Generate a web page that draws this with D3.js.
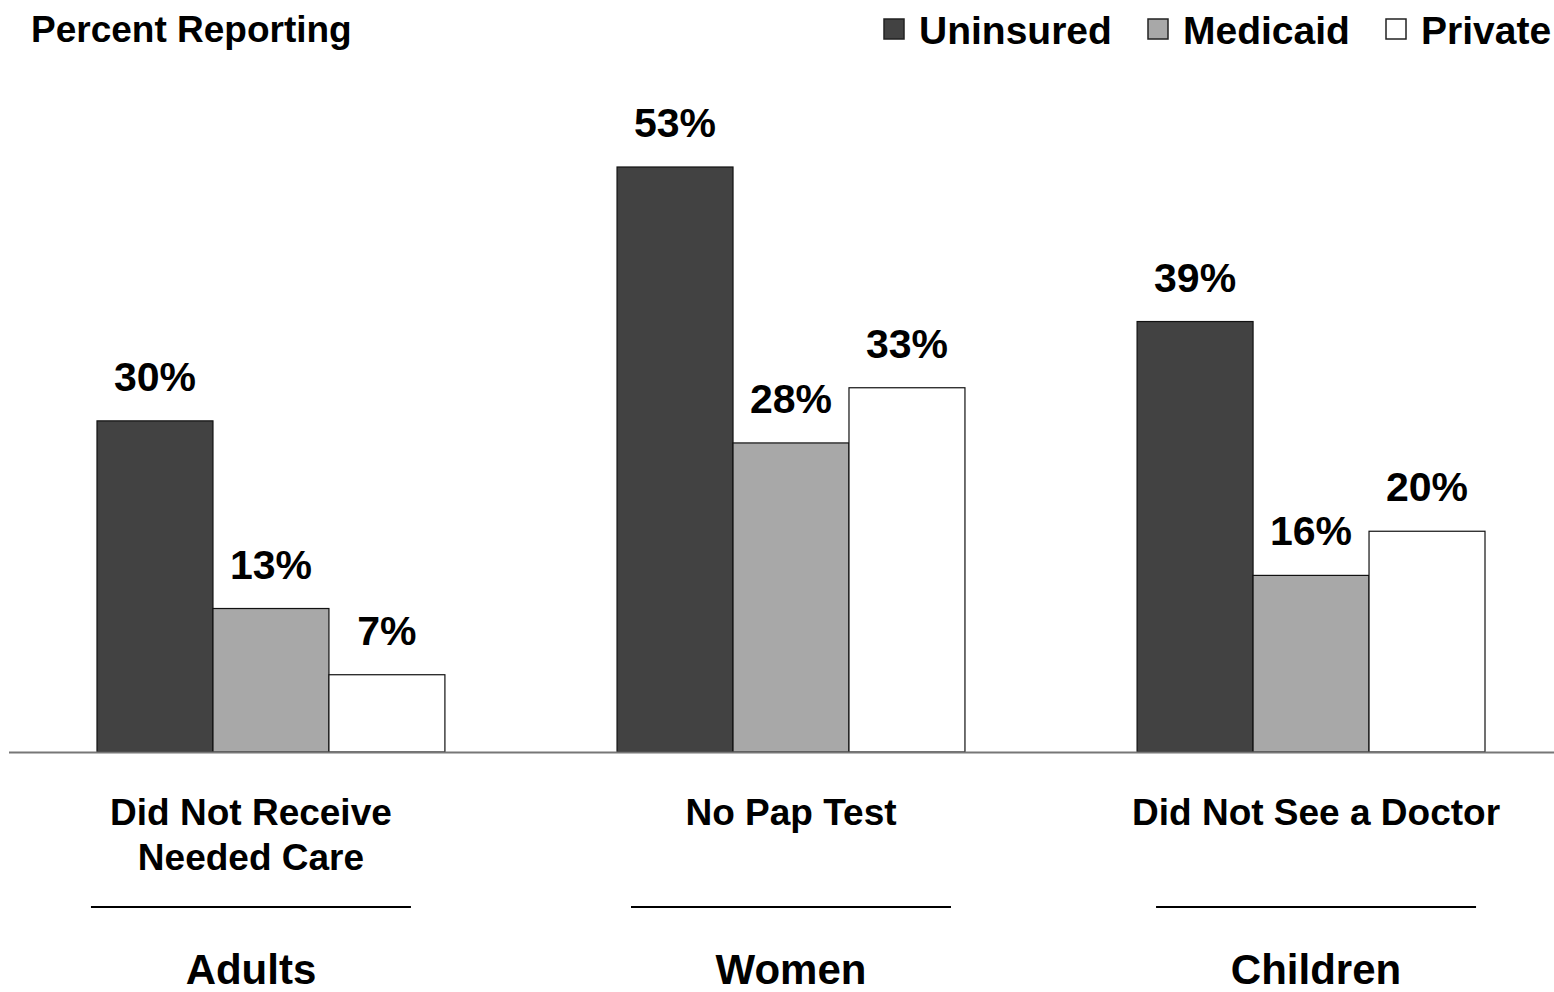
<!DOCTYPE html>
<html>
<head>
    <title>Percent Reporting by coverage</title>
    <style type="text/css">
        html, body { margin: 0; padding: 0; background: #fff; }
        svg { display: block; font-family: Arial, "Liberation Sans", sans-serif; font-weight: bold; }
    </style>
</head>
<body>
<div id="chart"></div>

<script src="https://cdnjs.cloudflare.com/ajax/libs/d3/7.8.5/d3.min.js"></script>
<script>

// data
var groups = ["Adults", "Women", "Children"];
var measures = [["Did Not Receive", "Needed Care"], ["No Pap Test"], ["Did Not See a Doctor"]];
var series = ["Uninsured", "Medicaid", "Private"];
var uninsured = [30, 53, 39];
var medicaid = [13, 28, 16];
var privateIns = [7, 33, 20];
var colors = ["#424242", "#a8a8a8", "#ffffff"];

var values = [uninsured, medicaid, privateIns];

var width = 1554, height = 992;
var baseY = 752;

var svg = d3.select("#chart").append("svg")
    .attr("width", width)
    .attr("height", height);

// group scale, bars inside
var x0 = d3.scaleBand().domain(groups).range([97, 1485]).paddingInner(0.331).paddingOuter(0);
var x1 = d3.scaleBand().domain(series).range([0, x0.bandwidth()]);

var y = d3.scaleLinear().domain([0, 53]).range([baseY, 167]);

// bars
var rows = [];
groups.forEach(function(g, gi) {
    series.forEach(function(s, si) {
        rows.push({group: g, series: s, si: si, value: values[si][gi]});
    });
});

svg.selectAll("rect.bar")
    .data(rows)
    .enter()
    .append("rect")
    .attr("class", "bar")
    .attr("x", function(d) { return x0(d.group) + x1(d.series); })
    .attr("y", function(d) { return y(d.value); })
    .attr("width", x1.bandwidth())
    .attr("height", function(d) { return baseY - y(d.value); })
    .style("fill", function(d) { return colors[d.si]; })
    .style("stroke", "#111")
    .style("stroke-width", 1.2);

// value labels
svg.selectAll("text.val")
    .data(rows)
    .enter()
    .append("text")
    .attr("class", "val")
    .attr("x", function(d) { return x0(d.group) + x1(d.series) + x1.bandwidth() / 2; })
    .attr("y", function(d) { return y(d.value) - 30; })
    .attr("text-anchor", "middle")
    .style("font-size", "41px")
    .text(function(d) { return d.value + "%"; });

// baseline
svg.append("line")
    .attr("x1", 9).attr("x2", width)
    .attr("y1", baseY + 0.5).attr("y2", baseY + 0.5)
    .style("stroke", "#777")
    .style("stroke-width", 2);

// category labels below the axis
var labelShift = [-20, 0, 5];
var catG = svg.selectAll("g.cat")
    .data(groups)
    .enter()
    .append("g")
    .attr("class", "cat")
    .attr("transform", function(d, i) {
        return "translate(" + (x0(d) + x0.bandwidth() / 2 + labelShift[i]) + ",0)";
    });

catG.append("text")
    .attr("text-anchor", "middle")
    .style("font-size", "37px")
    .selectAll("tspan")
    .data(function(d, i) { return measures[i]; })
    .enter()
    .append("tspan")
    .attr("x", 0)
    .attr("y", function(d, i) { return 825 + i * 45; })
    .text(function(d) { return d; });

catG.append("line")
    .attr("x1", -160).attr("x2", 160)
    .attr("y1", 907).attr("y2", 907)
    .style("stroke", "#000")
    .style("stroke-width", 2);

catG.append("text")
    .attr("text-anchor", "middle")
    .attr("y", 984)
    .style("font-size", "42px")
    .text(function(d) { return d; });

// title
svg.append("text")
    .attr("x", 31)
    .attr("y", 42)
    .style("font-size", "37px")
    .text("Percent Reporting");

// legend
var legendX = [884, 1148, 1386];
var leg = svg.selectAll("g.legend")
    .data(series)
    .enter()
    .append("g")
    .attr("class", "legend")
    .attr("transform", function(d, i) { return "translate(" + legendX[i] + ",0)"; });

leg.append("rect")
    .attr("x", 0).attr("y", 19)
    .attr("width", 20).attr("height", 20)
    .style("fill", function(d, i) { return colors[i]; })
    .style("stroke", "#222")
    .style("stroke-width", 1.5);

leg.append("text")
    .attr("x", 35)
    .attr("y", 44)
    .style("font-size", "39px")
    .text(function(d) { return d; });

</script>
</body>
</html>
